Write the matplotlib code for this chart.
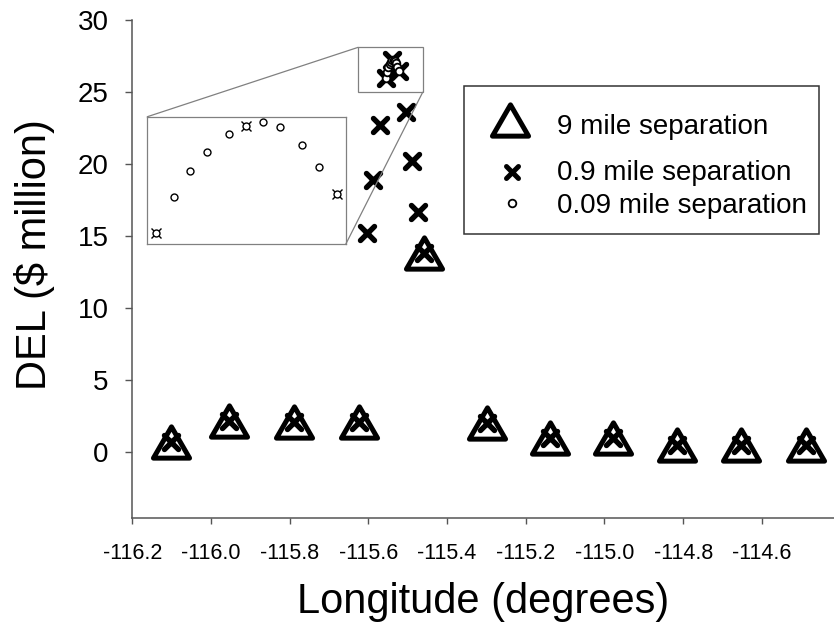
import matplotlib
matplotlib.use('Agg')
import matplotlib.pyplot as plt
from matplotlib.markers import MarkerStyle
from matplotlib.path import Path
from matplotlib.patches import Rectangle, ConnectionPatch

plt.rcParams['font.family'] = ['Liberation Sans', 'DejaVu Sans']
plt.rcParams['axes.unicode_minus'] = False

# ---------------- data ----------------
lon_9mi = [-116.102, -115.953, -115.789, -115.625, -115.458, -115.298,
           -115.139, -114.978, -114.815, -114.654, -114.488]
del_9mi = [0.72, 2.19, 2.06, 2.06, 13.85, 1.99, 0.95, 0.95, 0.46, 0.46, 0.46]

lon_09mi = [-116.102, -115.953, -115.789, -115.625, -115.604, -115.588,
            -115.571, -115.555, -115.539, -115.523, -115.505, -115.490,
            -115.474, -115.458, -115.298, -115.139, -114.978, -114.815,
            -114.654, -114.488]
del_09mi = [0.72, 2.19, 2.06, 2.06, 15.24, 18.89, 22.71, 26.00, 27.20, 26.44,
            23.63, 20.23, 16.69, 13.85, 1.99, 0.95, 0.95, 0.46, 0.46, 0.46]

lon_009mi = [-115.5550, -115.5518, -115.5489, -115.5459, -115.5420, -115.5390,
             -115.5360, -115.5330, -115.5291, -115.5261, -115.5230]
del_009mi = [26.00, 26.40, 26.70, 26.91, 27.11, 27.20, 27.24, 27.18, 26.98,
             26.74, 26.44]

series_labels = ['9 mile separation', '0.9 mile separation', '0.09 mile separation']
x_ticks = [-116.2, -116.0, -115.8, -115.6, -115.4, -115.2, -115.0, -114.8, -114.6]
y_ticks = [0, 5, 10, 15, 20, 25, 30]
x_label = 'Longitude (degrees)'
y_label = 'DEL ($ million)'

# zoom region shown by the inset (data coords of the small box) and inset limits
zoom_box_x = (-115.626, -115.462)
zoom_box_y = (24.98, 28.10)
inset_xlim = (-115.5565, -115.5214)
inset_ylim = (25.877, 27.30)

# ---------------- styles ----------------
tri_path = Path([(0, 0.866), (-1, -0.866), (1, -0.866), (0, 0.866)],
                [Path.MOVETO, Path.LINETO, Path.LINETO, Path.CLOSEPOLY])
tri_marker = MarkerStyle(tri_path, joinstyle='round')
x_marker = MarkerStyle('x', capstyle='round')

gray = '#808080'
axis_col = '#555555'

fig = plt.figure(figsize=(8.34, 6.3), dpi=100)
ax = fig.add_axes([0.1586, 0.1773, 0.8414, 0.7910])

ax.plot(lon_9mi, del_9mi, ls='none', marker=tri_marker, ms=26.0, mew=3.6,
        mec='black', mfc='white', zorder=3)
ax.plot(lon_09mi, del_09mi, ls='none', marker=x_marker, ms=9.5, mew=3.9,
        mec='black', zorder=4)
ax.plot(lon_009mi, del_009mi, ls='none', marker='o', ms=5.5, mew=1.3,
        mec='black', mfc='white', zorder=5)

ax.set_xlim(-116.2, -114.4167)
ax.set_ylim(-4.6, 30.0)
ax.set_xticks(x_ticks, labels=[f'{t:.1f}' for t in x_ticks])
ax.set_yticks(y_ticks, labels=[str(t) for t in y_ticks])

for s in ['top', 'right']:
    ax.spines[s].set_visible(False)
for s in ['left', 'bottom']:
    ax.spines[s].set_color(axis_col)
    ax.spines[s].set_linewidth(1.1)
ax.tick_params(axis='x', direction='out', length=4.5, width=1.0, color=axis_col,
               labelsize=15.5, pad=13.5)
ax.tick_params(axis='y', direction='out', length=5, width=1.0, color=axis_col,
               labelsize=20, pad=12)

ax.set_xlabel(x_label, fontsize=30)
ax.xaxis.label.set_va('baseline')
ax.xaxis.set_label_coords(0.5, -0.190)
ax.set_ylabel(y_label, fontsize=30)
ax.yaxis.set_label_coords(-0.1097, 0.529)

# small zoom box
ax.add_patch(Rectangle((zoom_box_x[0], zoom_box_y[0]),
                       zoom_box_x[1] - zoom_box_x[0], zoom_box_y[1] - zoom_box_y[0],
                       fill=False, ec=gray, lw=0.9, zorder=2))

# inset
ins = fig.add_axes([0.1766, 0.6122, 0.2379, 0.2025])
ins.plot(lon_09mi, del_09mi, ls='none', marker='x', ms=7.5, mew=1.0,
         mec='black', zorder=3)
ins.plot(lon_009mi, del_009mi, ls='none', marker='o', ms=5.0, mew=1.0,
         mec='black', mfc='white', zorder=4)
ins.set_xlim(*inset_xlim)
ins.set_ylim(*inset_ylim)
ins.set_xticks([])
ins.set_yticks([])
for s in ins.spines.values():
    s.set_color(gray)
    s.set_linewidth(0.9)

for xyA, xyB in [((zoom_box_x[0], zoom_box_y[1]), (0, 1)),
                 ((zoom_box_x[1], zoom_box_y[0]), (1, 0))]:
    con = ConnectionPatch(xyA=xyA, coordsA=ax.transData, xyB=xyB,
                          coordsB=ins.transAxes, color=gray, lw=0.9, zorder=1)
    fig.add_artist(con)

# legend (manual, to reproduce uneven row heights)
ax.add_patch(Rectangle((0.4727, 0.5705), 0.9790 - 0.4727, 0.8676 - 0.5705,
                       transform=ax.transAxes, fill=True, fc='white',
                       ec='#333333', lw=1.1, zorder=6))
leg_styles = [dict(marker=tri_marker, ms=26.0, mew=3.6, mec='black', mfc='white'),
              dict(marker=x_marker, ms=8.0, mew=3.6, mec='black'),
              dict(marker='o', ms=5.5, mew=1.3, mec='black', mfc='white')]
leg_marker_x = [0.5383, 0.5407, 0.5407]
leg_marker_y = [0.7993, 0.6956, 0.6322]
leg_text_y = [0.7712, 0.6789, 0.6121]
for lab, st, mx, my, ty in zip(series_labels, leg_styles, leg_marker_x,
                               leg_marker_y, leg_text_y):
    ax.plot([mx], [my], ls='none', transform=ax.transAxes, clip_on=False,
            zorder=7, **st)
    ax.text(0.6048, ty, lab, transform=ax.transAxes, fontsize=20,
            va='baseline', ha='left', zorder=7)

fig.savefig('out.png', dpi=100)
